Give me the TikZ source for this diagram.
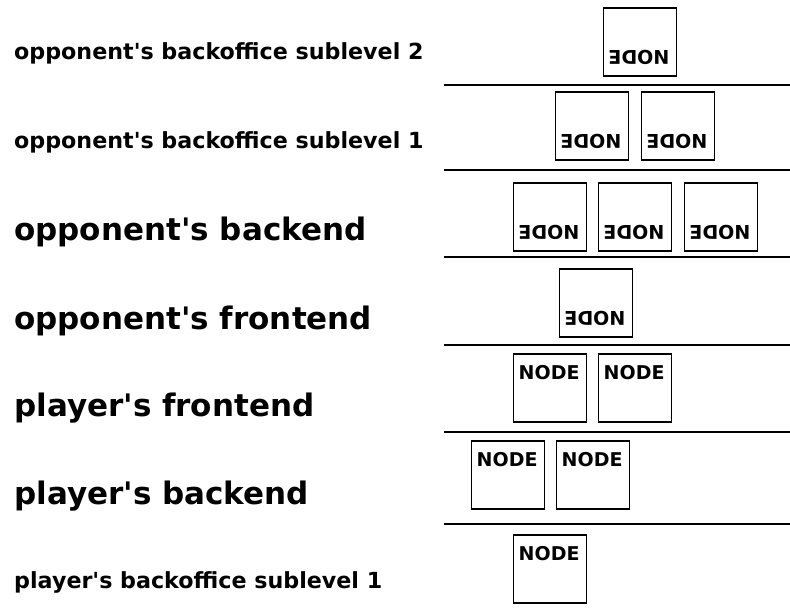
\documentclass[tikz,border=0pt]{standalone}
\usepackage{fontspec}
\setmainfont{DejaVu Sans}
\usetikzlibrary{positioning}

\begin{document}
\begin{tikzpicture}[x=1pt, y=-1pt,
    box/.style = {draw, line width=1.6pt, minimum width=73pt, minimum height=68pt, inner sep=0pt, outer sep=0pt},
    tag/.style = {font=\bfseries\fontsize{19}{22}\selectfont, inner xsep=5pt, inner ysep=11pt},
    small/.style = {anchor=base west, inner sep=0pt, font=\bfseries\fontsize{22.2}{26}\selectfont},
    big/.style = {anchor=base west, inner sep=0pt, font=\bfseries\fontsize{31}{36}\selectfont},
    sep/.style = {line width=1.8pt}]
      \useasboundingbox (0,0) rectangle (790,612);

      % level names
      \node[small] (l1) at (14,60)  {opponent\textquotesingle s backoffice sublevel 2};
      \node[small] (l2) at (14,149) {opponent\textquotesingle s backoffice sublevel 1};
      \node[big]   (l3) at (14,241) {opponent\textquotesingle s backend};
      \node[big]   (l4) at (14,330) {opponent\textquotesingle s frontend};
      \node[big]   (l5) at (14,416) {player\textquotesingle s frontend};
      \node[big]   (l6) at (14,504) {player\textquotesingle s backend};
      \node[small] (l7) at (14,588) {player\textquotesingle s backoffice sublevel 1};

      % separators
      \foreach \y in {85,170,257,345,432,524}
        \draw[sep] (444,\y) -- (790,\y);

      % opponent's side
      \node[box] (o21) at (640,42) {};
      \node[box] (o11) at (592,126) {};
      \node[box] (o12) [right=13pt of o11] {};
      \node[box] (ob1) at (550,217) {};
      \node[box] (ob2) [right=12pt of ob1] {};
      \node[box] (ob3) [right=13pt of ob2] {};
      \node[box] (of1) at (596,303) {};

      % player's side
      \node[box] (pf1) at (550,388) {};
      \node[box] (pf2) [right=12pt of pf1] {};
      \node[box] (pb1) at (508,475) {};
      \node[box] (pb2) [right=12pt of pb1] {};
      \node[box] (p11) at (550,569) {};

      \foreach \n in {o21,o11,o12,ob1,ob2,ob3,of1}
        \node[tag, rotate=180, anchor=north west, inner xsep=7pt] at (\n.south east) {NODE};
      \foreach \n in {pf1,pf2,pb1,pb2,p11}
        \node[tag, anchor=north west] at (\n.north west) {NODE};
\end{tikzpicture}
\end{document}
